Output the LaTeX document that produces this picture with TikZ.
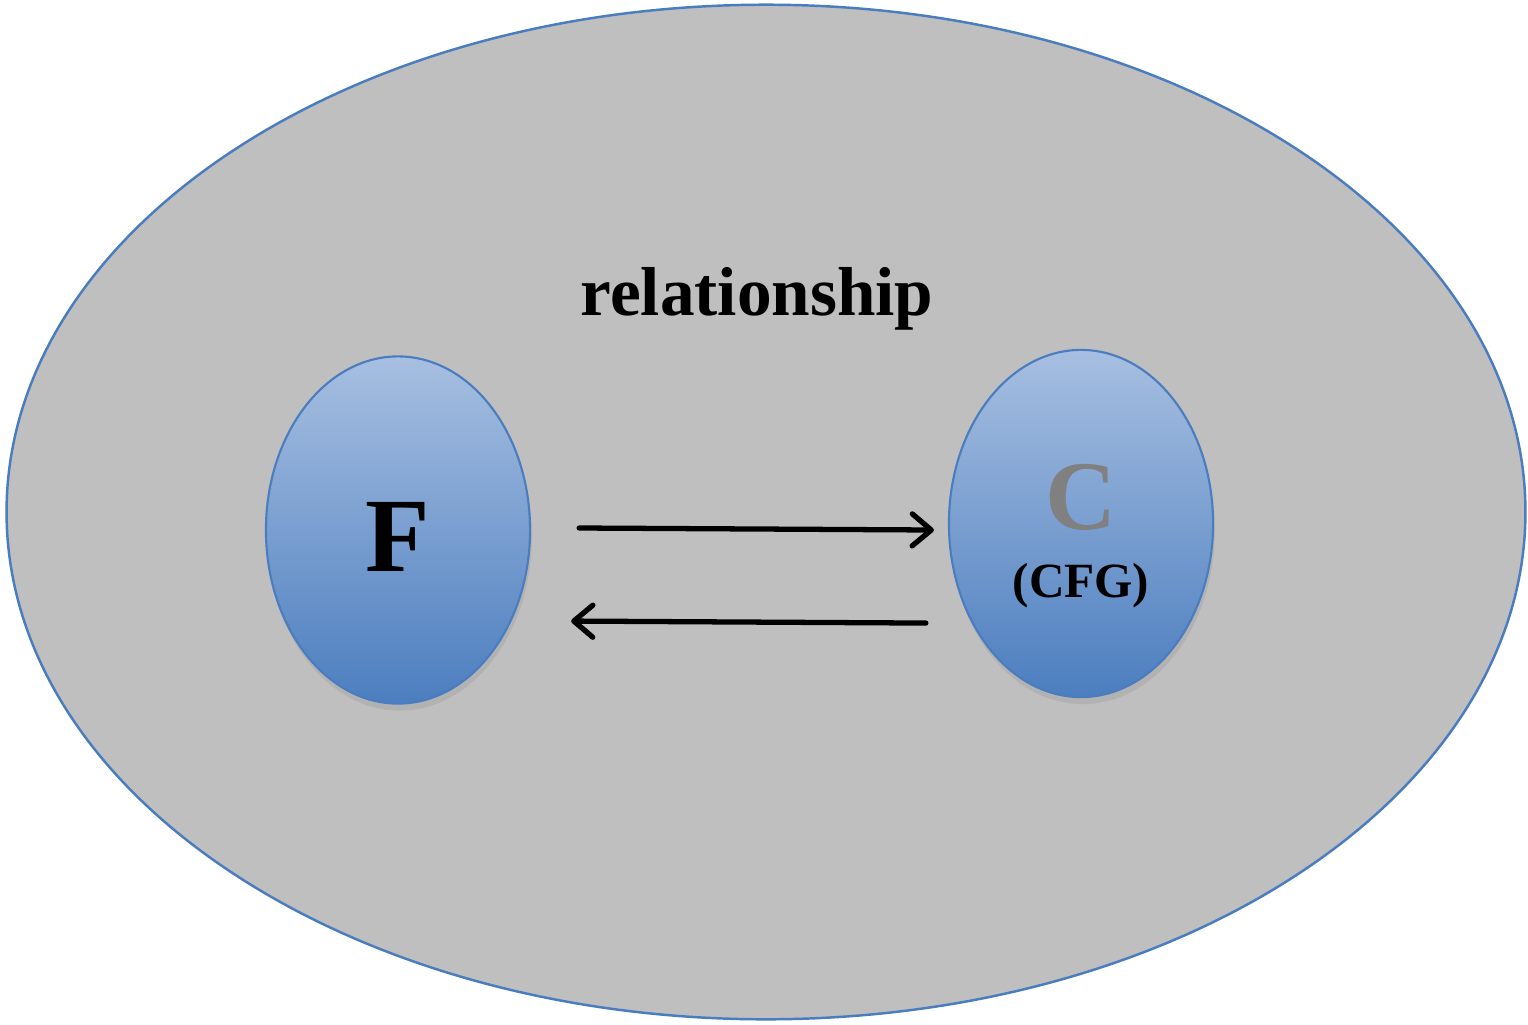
\documentclass[tikz,border=0pt]{standalone}
\usepackage{fontspec}
\setmainfont{Liberation Serif}
\usepackage{xcolor}
\usepackage{tikz}
\usetikzlibrary{arrows.meta, positioning, shapes.geometric, shadows}

\definecolor{areagrey}{HTML}{BFBFBF}
\definecolor{rimblue}{HTML}{4A7CC0}
\definecolor{toplight}{HTML}{A7BFE1}
\definecolor{botdark}{HTML}{4C7EBF}

\begin{document}
\begin{tikzpicture}[
    x=0.01cm, y=-0.01cm,
    area/.style={ellipse, draw=rimblue, line width=0.7pt, fill=areagrey,
                 minimum width=15.18cm, minimum height=10.14cm, inner sep=0pt},
    blob/.style={ellipse, draw=rimblue, line width=0.6pt, top color=toplight, bottom color=botdark,
                 minimum width=2.64cm, minimum height=3.47cm, inner sep=0pt,
                 drop shadow={opacity=0.2, shadow xshift=0.5pt, shadow yshift=-2pt}},
    arrow/.style={-{Straight Barb[length=1.9mm, width=3.2mm, line width=1.5pt, round]},
                  line width=1.5pt, line cap=round},
    title/.style={font=\bfseries\fontsize{19.7}{22}\selectfont}
]
\useasboundingbox (0,0) rectangle (1528,1024);
\node[area] (rel) at (766,512) {};
\node[title] (lbl) at (757,299) {relationship};

\node[blob] (F) at (398,530) {};
\node[blob] (C) at (1081,523.5) {};
\node[font=\bfseries\fontsize{30}{33}\selectfont] (Ftext) at (398,537) {F};
\node[font=\bfseries\fontsize{28}{31}\selectfont, text=gray] (Ctext) at (1081,497) {C};
\node[font=\bfseries\fontsize{14}{17}\selectfont] (Csub) at (1081,586) {(CFG)};

\draw[arrow] ([xshift=0.48cm, yshift=0.02cm]F.east) -- ([xshift=-0.14cm, yshift=-0.065cm]C.west);
\draw[arrow] ([xshift=-0.22cm, yshift=-0.995cm]C.west) -- ([xshift=0.40cm, yshift=-0.91cm]F.east);
\end{tikzpicture}
\end{document}
